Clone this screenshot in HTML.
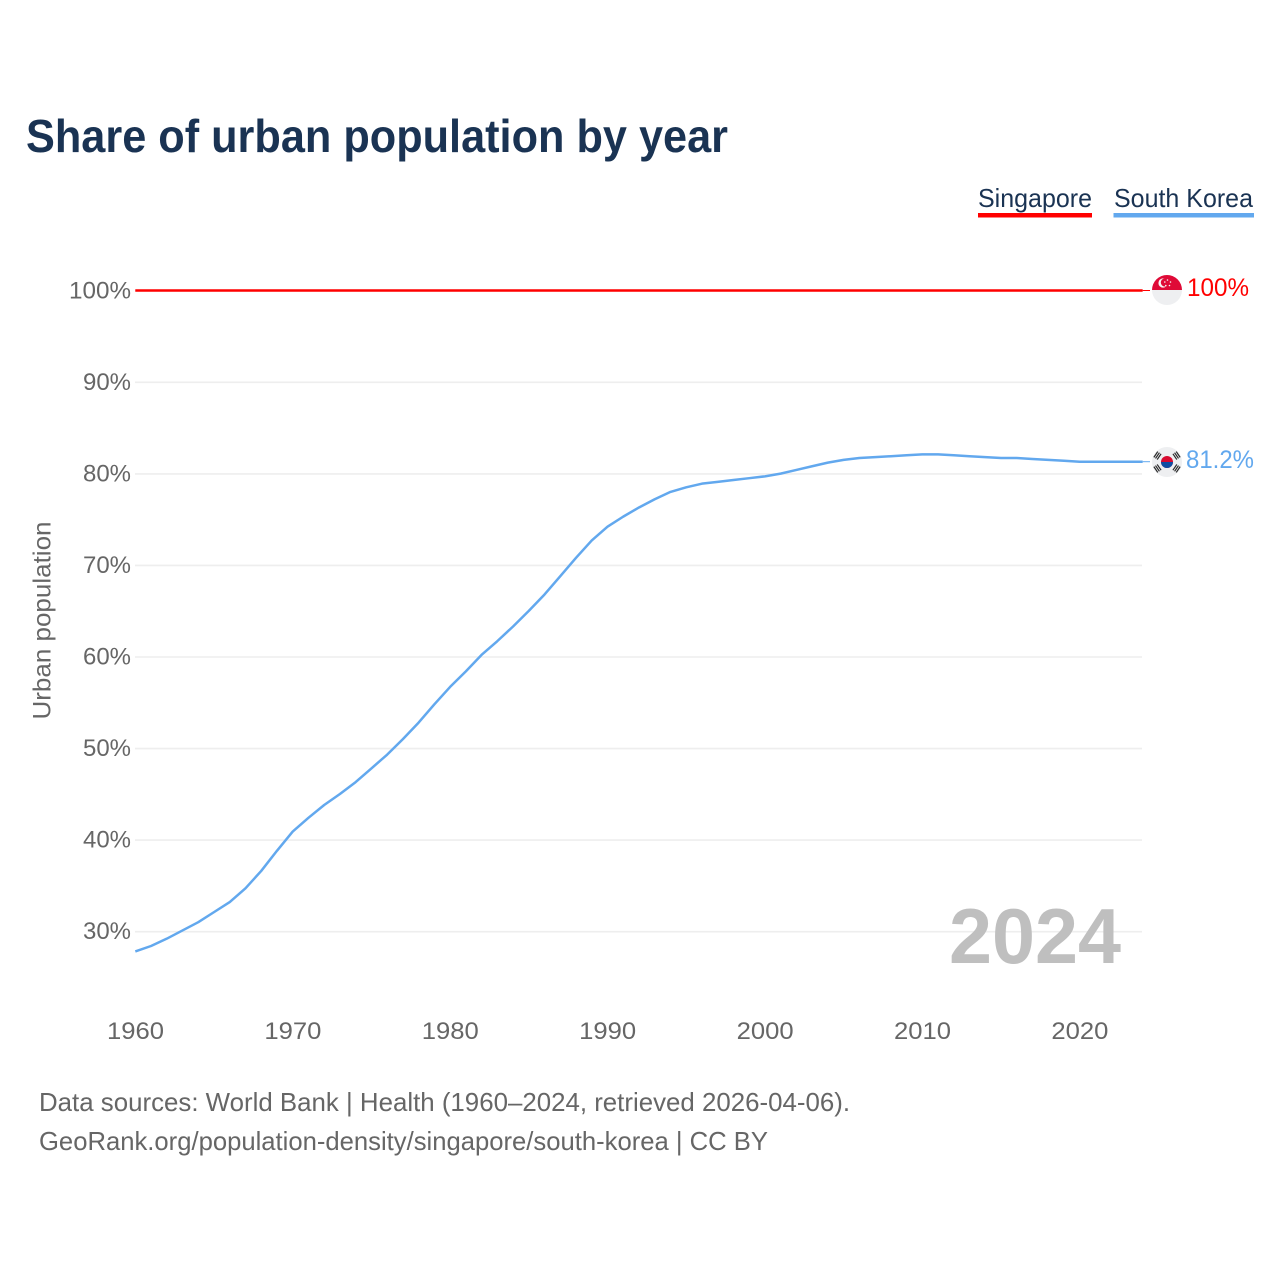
<!DOCTYPE html>
<html lang="en">
<head>
<meta charset="utf-8">
<title>Share of urban population by year</title>
<style>
html,body{margin:0;padding:0;background:#fff;}
svg{display:block;font-family:"Liberation Sans",sans-serif;}
</style>
</head>
<body>
<svg id="chart" xmlns="http://www.w3.org/2000/svg" width="1280" height="1280" viewBox="0 0 1280 1280">
  <rect width="1280" height="1280" fill="#ffffff"/>
  <text x="26" y="152" font-size="46" font-weight="700" fill="#1a3353" textLength="702" lengthAdjust="spacingAndGlyphs">Share of urban population by year</text>

  <g>
    <text x="978" y="207" font-size="26" fill="#1a3353" textLength="114" lengthAdjust="spacingAndGlyphs">Singapore</text>
    <rect x="978" y="213" width="114" height="4.5" fill="#ff0000"/>
  </g>
  <g>
    <text x="1114" y="207" font-size="26" fill="#1a3353" textLength="139" lengthAdjust="spacingAndGlyphs">South Korea</text>
    <rect x="1113.5" y="213" width="140.5" height="4.5" fill="#62a8ee"/>
  </g>

  <g id="grid"></g>
  <g id="yticks"></g>
  <g id="xticks"></g>
  <text transform="translate(50.5,719.5) rotate(-90)" font-size="25" fill="#666666" textLength="198" lengthAdjust="spacingAndGlyphs">Urban population</text>

  <text x="949" y="963" font-size="78" font-weight="700" fill="#bfbfbf" textLength="172" lengthAdjust="spacingAndGlyphs">2024</text>
  <g id="series"></g>

  <g>
    <clipPath id="sgClip"><circle cx="1167" cy="290" r="15"/></clipPath>
    <g clip-path="url(#sgClip)">
      <rect x="1152" y="275" width="30" height="15" fill="#df0a37"/>
      <rect x="1152" y="290" width="30" height="15" fill="#eeeff1"/>
    </g>
    <circle cx="1163" cy="283" r="4.6" fill="#f6f6f6"/>
    <circle cx="1164.8" cy="282.5" r="4" fill="#df0a37"/>
    <g fill="#f6f6f6">
      <circle cx="1167.5" cy="280" r="0.8"/>
      <circle cx="1170.5" cy="282" r="0.8"/>
      <circle cx="1169.5" cy="285.5" r="0.8"/>
      <circle cx="1165.8" cy="285.5" r="0.8"/>
      <circle cx="1164.8" cy="282" r="0.8"/>
    </g>
  </g>
  <g>
    <circle cx="1167" cy="462" r="15" fill="#eeeff1"/>
    <circle cx="1167" cy="462" r="6" fill="#d80a30"/>
    <path d="M1161 462a6 6 0 0 0 12 0z" fill="#0f4da3"/>
    <g stroke="#2a2a2a" stroke-width="1.2">
      <path transform="rotate(-56 1167 462)" d="M1163.5 452.5h7M1163.5 450.5h7M1163.5 448.5h7"/>
      <path transform="rotate(56 1167 462)" d="M1163.5 452.5h7M1163.5 450.5h7M1163.5 448.5h7"/>
      <path transform="rotate(124 1167 462)" d="M1163.5 452.5h7M1163.5 450.5h7M1163.5 448.5h7"/>
      <path transform="rotate(-124 1167 462)" d="M1163.5 452.5h7M1163.5 450.5h7M1163.5 448.5h7"/>
    </g>
  </g>
  <text x="1187" y="296" font-size="25" fill="#ff0000" textLength="62" lengthAdjust="spacingAndGlyphs">100%</text>
  <text x="1186" y="468" font-size="25" fill="#62a8ee" textLength="68" lengthAdjust="spacingAndGlyphs">81.2%</text>

  <text x="39" y="1111" font-size="26" fill="#666666" textLength="811" lengthAdjust="spacingAndGlyphs">Data sources: World Bank | Health (1960–2024, retrieved 2026-04-06).</text>
  <text x="39" y="1150" font-size="26" fill="#666666" textLength="729" lengthAdjust="spacingAndGlyphs">GeoRank.org/population-density/singapore/south-korea | CC BY</text>
</svg>
<script>
var startYear = 1960;
var endYear = 2024;
var yTickValues = [30, 40, 50, 60, 70, 80, 90, 100];
var yTickLabels = ['30%', '40%', '50%', '60%', '70%', '80%', '90%', '100%'];
var xTickValues = [1960, 1970, 1980, 1990, 2000, 2010, 2020];
var xTickLabels = ['1960', '1970', '1980', '1990', '2000', '2010', '2020'];
var singaporeValues = [100,100,100,100,100,100,100,100,100,100,100,100,100,100,100,100,100,100,100,100,100,100,100,100,100,100,100,100,100,100,100,100,100,100,100,100,100,100,100,100,100,100,100,100,100,100,100,100,100,100,100,100,100,100,100,100,100,100,100,100,100,100,100,100,100];
var southKoreaValues = [27.8,28.4,29.2,30.1,31.0,32.1,33.2,34.7,36.6,38.8,40.9,42.4,43.8,45.0,46.3,47.8,49.3,51.0,52.8,54.8,56.7,58.4,60.2,61.7,63.3,65.0,66.8,68.8,70.8,72.7,74.2,75.3,76.3,77.2,78.0,78.5,78.9,79.1,79.3,79.5,79.7,80.0,80.4,80.8,81.2,81.5,81.7,81.8,81.9,82.0,82.1,82.1,82.0,81.9,81.8,81.7,81.7,81.6,81.5,81.4,81.3,81.3,81.3,81.3,81.3];

var NS = 'http://www.w3.org/2000/svg';
function xScale(year) { return 135.3 + (year - startYear) * 15.74; }
function yScale(value) { return 290.5 + (100 - value) * 9.155; }
function make(tag, attrs, parent) {
  var el = document.createElementNS(NS, tag);
  for (var k in attrs) { el.setAttribute(k, attrs[k]); }
  parent.appendChild(el);
  return el;
}
var grid = document.getElementById('grid');
var yticks = document.getElementById('yticks');
var xticks = document.getElementById('xticks');
var series = document.getElementById('series');

yTickValues.forEach(function (v, i) {
  var line = make('line', {x1: 135, x2: 1142, y1: yScale(v) + 0.3, y2: yScale(v) + 0.3, stroke: '#eeeeee', 'stroke-width': 1.6}, grid);
  
  
  var label = make('text', {x: 131, y: yScale(v) + 7.8, 'font-size': 24, fill: '#666666', 'text-anchor': 'end', textLength: yTickLabels[i].length === 4 ? 62 : 48, lengthAdjust: 'spacingAndGlyphs'}, yticks);
  label.textContent = yTickLabels[i];
  
  
});

xTickValues.forEach(function (v, i) {
  var label = make('text', {x: xScale(v) + 0.2, y: 1039, 'font-size': 24, fill: '#666666', 'text-anchor': 'middle', textLength: 57, lengthAdjust: 'spacingAndGlyphs'}, xticks);
  label.textContent = xTickLabels[i];
  
  
});

function pointsFor(values) {
  return values.map(function (v, i) {
    return xScale(startYear + i).toFixed(2) + ',' + yScale(v).toFixed(2);
  }).join(' ');
}
var singaporeLine = make('polyline', {points: pointsFor(singaporeValues), fill: 'none', stroke: '#ff0000', 'stroke-width': 2.4, 'stroke-linejoin': 'round'}, series);


var koreaLine = make('polyline', {points: pointsFor(southKoreaValues), fill: 'none', stroke: '#62a8ee', 'stroke-width': 2.5, 'stroke-linejoin': 'round'}, series);



var lastSg = singaporeValues[singaporeValues.length - 1];
var lastKr = southKoreaValues[southKoreaValues.length - 1];
var sgStub = make('line', {x1: xScale(endYear), x2: 1150, y1: yScale(lastSg), y2: yScale(lastSg), stroke: '#ff0000', 'stroke-width': 1}, series);


var krStub = make('line', {x1: xScale(endYear), x2: 1150, y1: yScale(lastKr), y2: yScale(lastKr), stroke: '#62a8ee', 'stroke-width': 1}, series);


</script>
</body>
</html>
